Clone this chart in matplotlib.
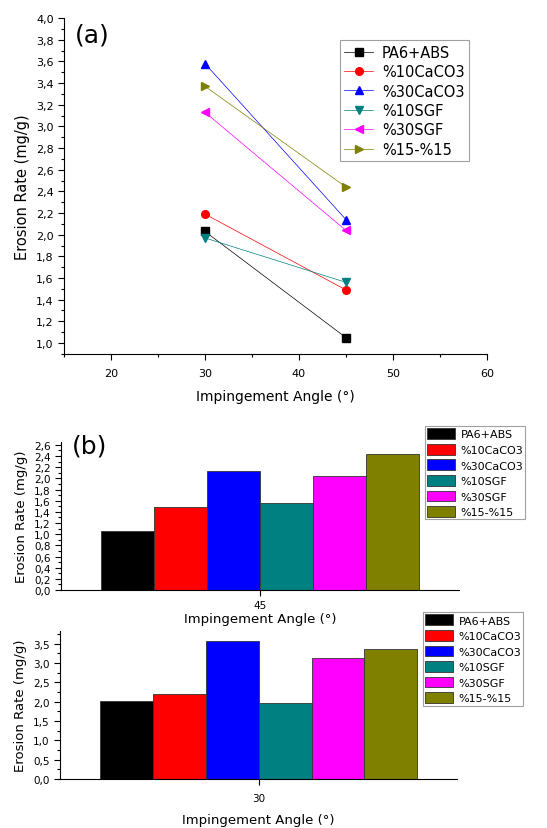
import numpy as np
import matplotlib
matplotlib.use("Agg")
import matplotlib.pyplot as plt
from matplotlib.ticker import MultipleLocator, FuncFormatter

series = ["PA6+ABS", "%10CaCO3", "%30CaCO3", "%10SGF", "%30SGF", "%15-%15"]
angles = [30, 45]
rate_30 = [2.03, 2.19, 3.58, 1.97, 3.13, 3.37]
rate_45 = [1.05, 1.49, 2.14, 1.56, 2.04, 2.44]

colors = ["#000000", "#ff0000", "#0000ff", "#008080", "#ff00ff", "#808000"]
markers = ["s", "o", "^", "v", "<", ">"]

plt.rcParams["font.family"] = ["DejaVu Sans"]

comma = FuncFormatter(lambda v, p: f"{v:.1f}".replace(".", ","))


def style_axes(ax, size=7.5):
    ax.spines["top"].set_visible(False)
    ax.spines["right"].set_visible(False)
    ax.tick_params(which="both", direction="out", labelsize=size, width=0.8)
    ax.tick_params(which="major", length=4)
    ax.tick_params(which="minor", length=2)


fig = plt.figure(figsize=(5.47, 8.29), dpi=100)

# (a) line chart
ax1 = fig.add_axes([0.117, 0.572, 0.773, 0.405])
for i, name in enumerate(series):
    ax1.plot(angles, [rate_30[i], rate_45[i]], color=colors[i], marker=markers[i],
             markersize=5.5, linewidth=0.5, label=name)
ax1.set_xlim(15, 60)
ax1.set_ylim(0.9, 4.0)
ax1.xaxis.set_major_locator(MultipleLocator(10))
ax1.xaxis.set_minor_locator(MultipleLocator(5))
ax1.yaxis.set_major_locator(MultipleLocator(0.2))
ax1.yaxis.set_minor_locator(MultipleLocator(0.1))
ax1.yaxis.set_major_formatter(comma)
style_axes(ax1, 8)
ax1.tick_params(axis="x", pad=6)
ax1.set_xlabel("Impingement Angle (°)", fontsize=10, labelpad=8)
ax1.set_ylabel("Erosion Rate (mg/g)", fontsize=10.5)
ax1.text(0.026, 0.93, "(a)", transform=ax1.transAxes, fontsize=18)
leg = ax1.legend(loc="upper right", bbox_to_anchor=(0.975, 0.955), fontsize=10.5,
                 frameon=True, fancybox=False, edgecolor="#888888",
                 handlelength=2.0, borderpad=0.3, labelspacing=0.3,
                 handletextpad=0.6)
leg.get_frame().set_linewidth(0.8)

# (b) bar chart at 45 and (c) bar chart at 30
width = 0.8 / len(series)
offsets = (np.arange(len(series)) - (len(series) - 1) / 2) * width


def bar_panel(rect, angle, values, ylim, major, minor, legend_top):
    ax = fig.add_axes(rect)
    for i, name in enumerate(series):
        ax.bar(offsets[i], values[i], width=width, color=colors[i],
               edgecolor="#333333", linewidth=0.6, label=name)
    ax.set_xlim(-0.5, 0.5)
    ax.set_ylim(*ylim)
    ax.set_xticks([0])
    ax.set_xticklabels([str(angle)])
    ax.yaxis.set_major_locator(MultipleLocator(major))
    ax.yaxis.set_minor_locator(MultipleLocator(minor))
    ax.yaxis.set_major_formatter(comma)
    style_axes(ax)
    ax.set_ylabel("Erosion Rate (mg/g)", fontsize=9.5)
    lg = ax.legend(loc="upper left", bbox_to_anchor=(0.9, legend_top), fontsize=8,
                   frameon=True, fancybox=False, edgecolor="#888888",
                   handlelength=2.5, handleheight=1.1, borderpad=0.2,
                   labelspacing=0.4, handletextpad=0.5)
    lg.get_frame().set_linewidth(0.8)
    return ax


axb = bar_panel([0.1115, 0.287, 0.728, 0.1786], 45, rate_45, (0, 2.65), 0.2, 0.1, 1.145)
axb.set_xlabel("Impingement Angle (°)", fontsize=9.5, labelpad=1)
axb.text(0.028, 0.93, "(b)", transform=axb.transAxes, fontsize=18)
axc = bar_panel([0.1097, 0.0591, 0.726, 0.1785], 30, rate_30, (0, 3.83), 0.5, 0.25, 1.165)
axc.tick_params(axis="x", pad=6)
axc.set_xlabel("Impingement Angle (°)", fontsize=9.5, labelpad=7)

fig.savefig("out.png", dpi=100)
